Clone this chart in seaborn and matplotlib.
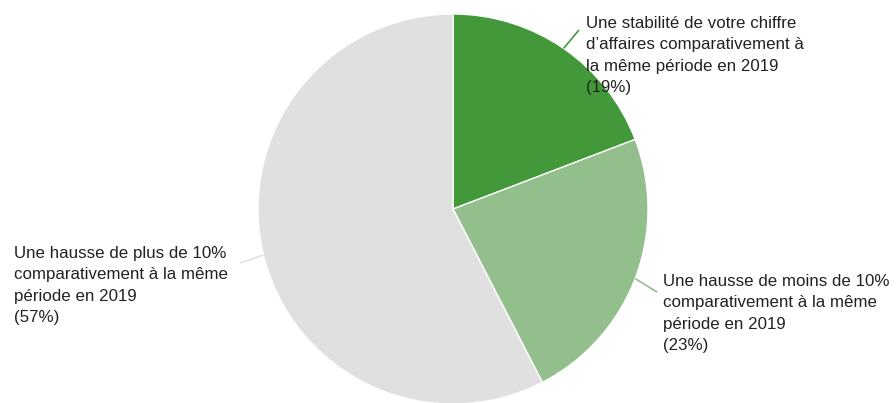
import numpy as np
import matplotlib
matplotlib.use("Agg")
import matplotlib.pyplot as plt
import seaborn as sns

# données
labels = [
    "Une stabilité de votre chiffre\nd\u2019affaires comparativement à\nla même période en 2019",
    "Une hausse de moins de 10%\ncomparativement à la même\npériode en 2019",
    "Une hausse de plus de 10%\ncomparativement à la même\npériode en 2019",
]
values = [19, 23, 57]
colors = ["#43993a", "#93bf8d", "#e0e0e0"]

sns.set_theme(style="white")
plt.rcParams['font.family'] = ['Liberation Sans', 'DejaVu Sans']

W, H = 896, 403
fig = plt.figure(figsize=(W / 100, H / 100), dpi=100)
ax = fig.add_axes([0, 0, 1, 1])

cx, cy, r = 453, H - 209, 195
wedges, _ = ax.pie(values, colors=colors, startangle=90, counterclock=False,
                   center=(cx, cy), radius=r, frame=True,
                   wedgeprops=dict(edgecolor='white', linewidth=1))
ax.set_xlim(0, W)
ax.set_ylim(0, H)
ax.set_aspect('equal')
ax.axis('off')

# position du texte (coin haut-gauche) et extrémité du trait de rappel
text_pos = [(586, 16), (663, 274), (14, 246)]
line_end = [(579, 30), (657, 292), (240, 263)]

for w, lab, v, col, (tx, ty), (lx, ly) in zip(wedges, labels, values, colors, text_pos, line_end):
    mid = np.deg2rad((w.theta1 + w.theta2) / 2)
    ex, ey = cx + r * np.cos(mid), cy + r * np.sin(mid)
    ax.plot([ex, lx], [ey, H - ly], color=col, lw=1.2, solid_capstyle='butt')
    ax.text(tx, H - ty, f"{lab}\n({v}%)", ha='left', va='top',
            fontsize=12.2, color='#222222', linespacing=1.53)

fig.savefig("out.png", dpi=100)
